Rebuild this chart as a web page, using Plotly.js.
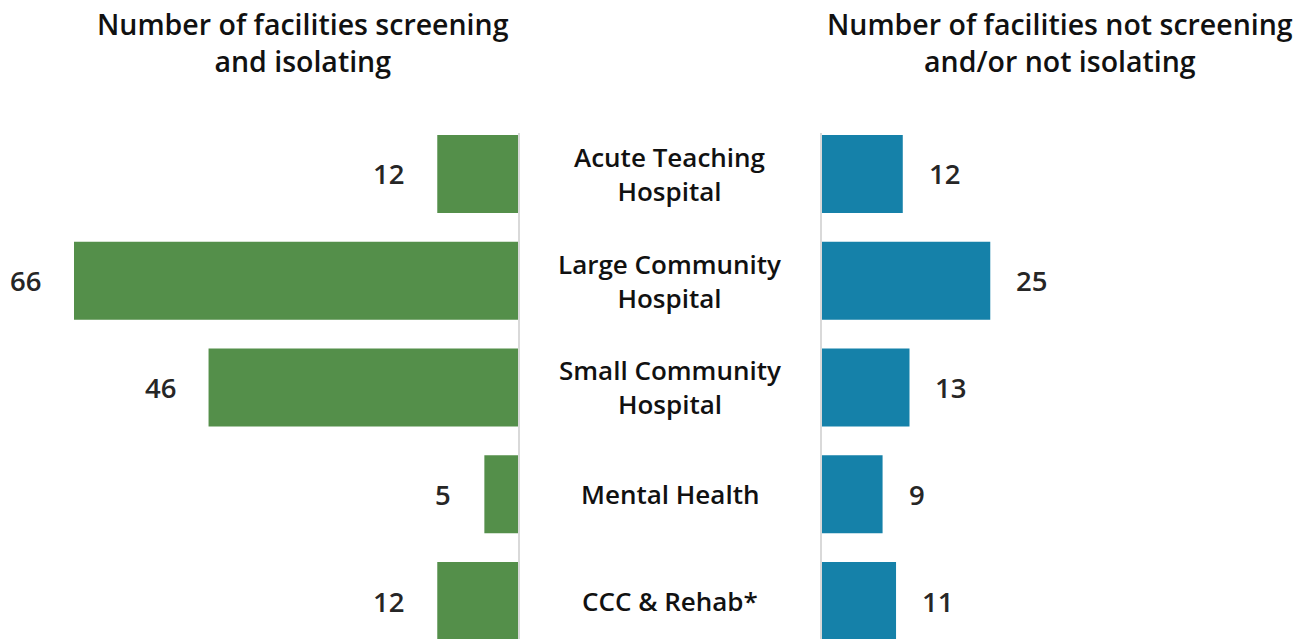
<!DOCTYPE html>
<html>
<head>
<meta charset="utf-8">
<script src="https://cdn.plot.ly/plotly-3.0.1.min.js"></script>
<style>html,body{margin:0;padding:0;background:#fff;}#chart{width:1312px;height:639px;}</style>
</head>
<body>
<div id="chart"></div>
<script>
const categories = ["Acute Teaching<br>Hospital", "Large Community<br>Hospital", "Small Community<br>Hospital", "Mental Health", "CCC & Rehab*"];
const screeningIsolating = [12, 66, 46, 5, 12];
const notScreeningIsolating = [12, 25, 13, 9, 11];
const leftTitle = "Number of facilities screening<br>and isolating";
const rightTitle = "Number of facilities not screening<br>and/or not isolating";

const W = 1312, H = 639;
const FONT = "Open Sans, sans-serif";
const green = "#548f4a", blue = "#1581a9";

const traces = [
  {type: "bar", orientation: "h", y: categories, x: screeningIsolating, xaxis: "x", yaxis: "y",
   marker: {color: green}, width: 0.73, hoverinfo: "none"},
  {type: "bar", orientation: "h", y: categories, x: notScreeningIsolating, xaxis: "x2", yaxis: "y2",
   marker: {color: blue}, width: 0.73, hoverinfo: "none"}
];

const catFont = {family: FONT, size: 26, color: "#111", weight: 600};
const valFont = {family: FONT, size: 27.5, color: "#262626", weight: 600};
const titleFont = {family: FONT, size: 28.5, color: "#111", weight: 600};

const annotations = [];
categories.forEach((c, i) => {
  annotations.push({xref: "paper", yref: "y", x: 670 / W, y: c, text: c, showarrow: false,
    xanchor: "center", yanchor: "middle", font: catFont});
  annotations.push({xref: "x", yref: "y", x: screeningIsolating[i], y: c, text: String(screeningIsolating[i]),
    showarrow: false, xanchor: "right", yanchor: "middle", xshift: -31, font: valFont});
  annotations.push({xref: "x2", yref: "y2", x: notScreeningIsolating[i], y: c, text: String(notScreeningIsolating[i]),
    showarrow: false, xanchor: "left", yanchor: "middle", xshift: 24, font: valFont});
});
annotations.push({xref: "paper", yref: "paper", x: 303 / W, y: 1 - 42.5 / H, yanchor: "middle", xanchor: "center",
  text: leftTitle, showarrow: false, font: titleFont});
annotations.push({xref: "paper", yref: "paper", x: 1060 / W, y: 1 - 42.5 / H, yanchor: "middle", xanchor: "center",
  text: rightTitle, showarrow: false, font: titleFont});

const plotTop = 133;
const yr = [4.356, -0.384];

const layout = {
  width: W, height: H,
  margin: {l: 0, r: 0, t: 0, b: 0},
  paper_bgcolor: "#fff", plot_bgcolor: "rgba(0,0,0,0)",
  showlegend: false,
  xaxis: {domain: [0, 518 / W], range: [77, 0], showgrid: false, zeroline: false, showticklabels: false, showline: false, fixedrange: true},
  xaxis2: {domain: [822 / W, 1], range: [0, 72.8], showgrid: false, zeroline: false, showticklabels: false, showline: false, fixedrange: true},
  yaxis: {domain: [0, (H - plotTop) / H], range: yr, side: "right", anchor: "x", showticklabels: false, ticks: "",
    showline: true, linecolor: "#d9d9d9", linewidth: 2, showgrid: false, zeroline: false, fixedrange: true},
  yaxis2: {domain: [0, (H - plotTop) / H], range: yr, side: "left", anchor: "x2", showticklabels: false, ticks: "",
    showline: true, linecolor: "#d9d9d9", linewidth: 2, showgrid: false, zeroline: false, fixedrange: true},
  annotations: annotations
};

Plotly.newPlot("chart", traces, layout, {displayModeBar: false, staticPlot: true});
</script>
</body>
</html>
